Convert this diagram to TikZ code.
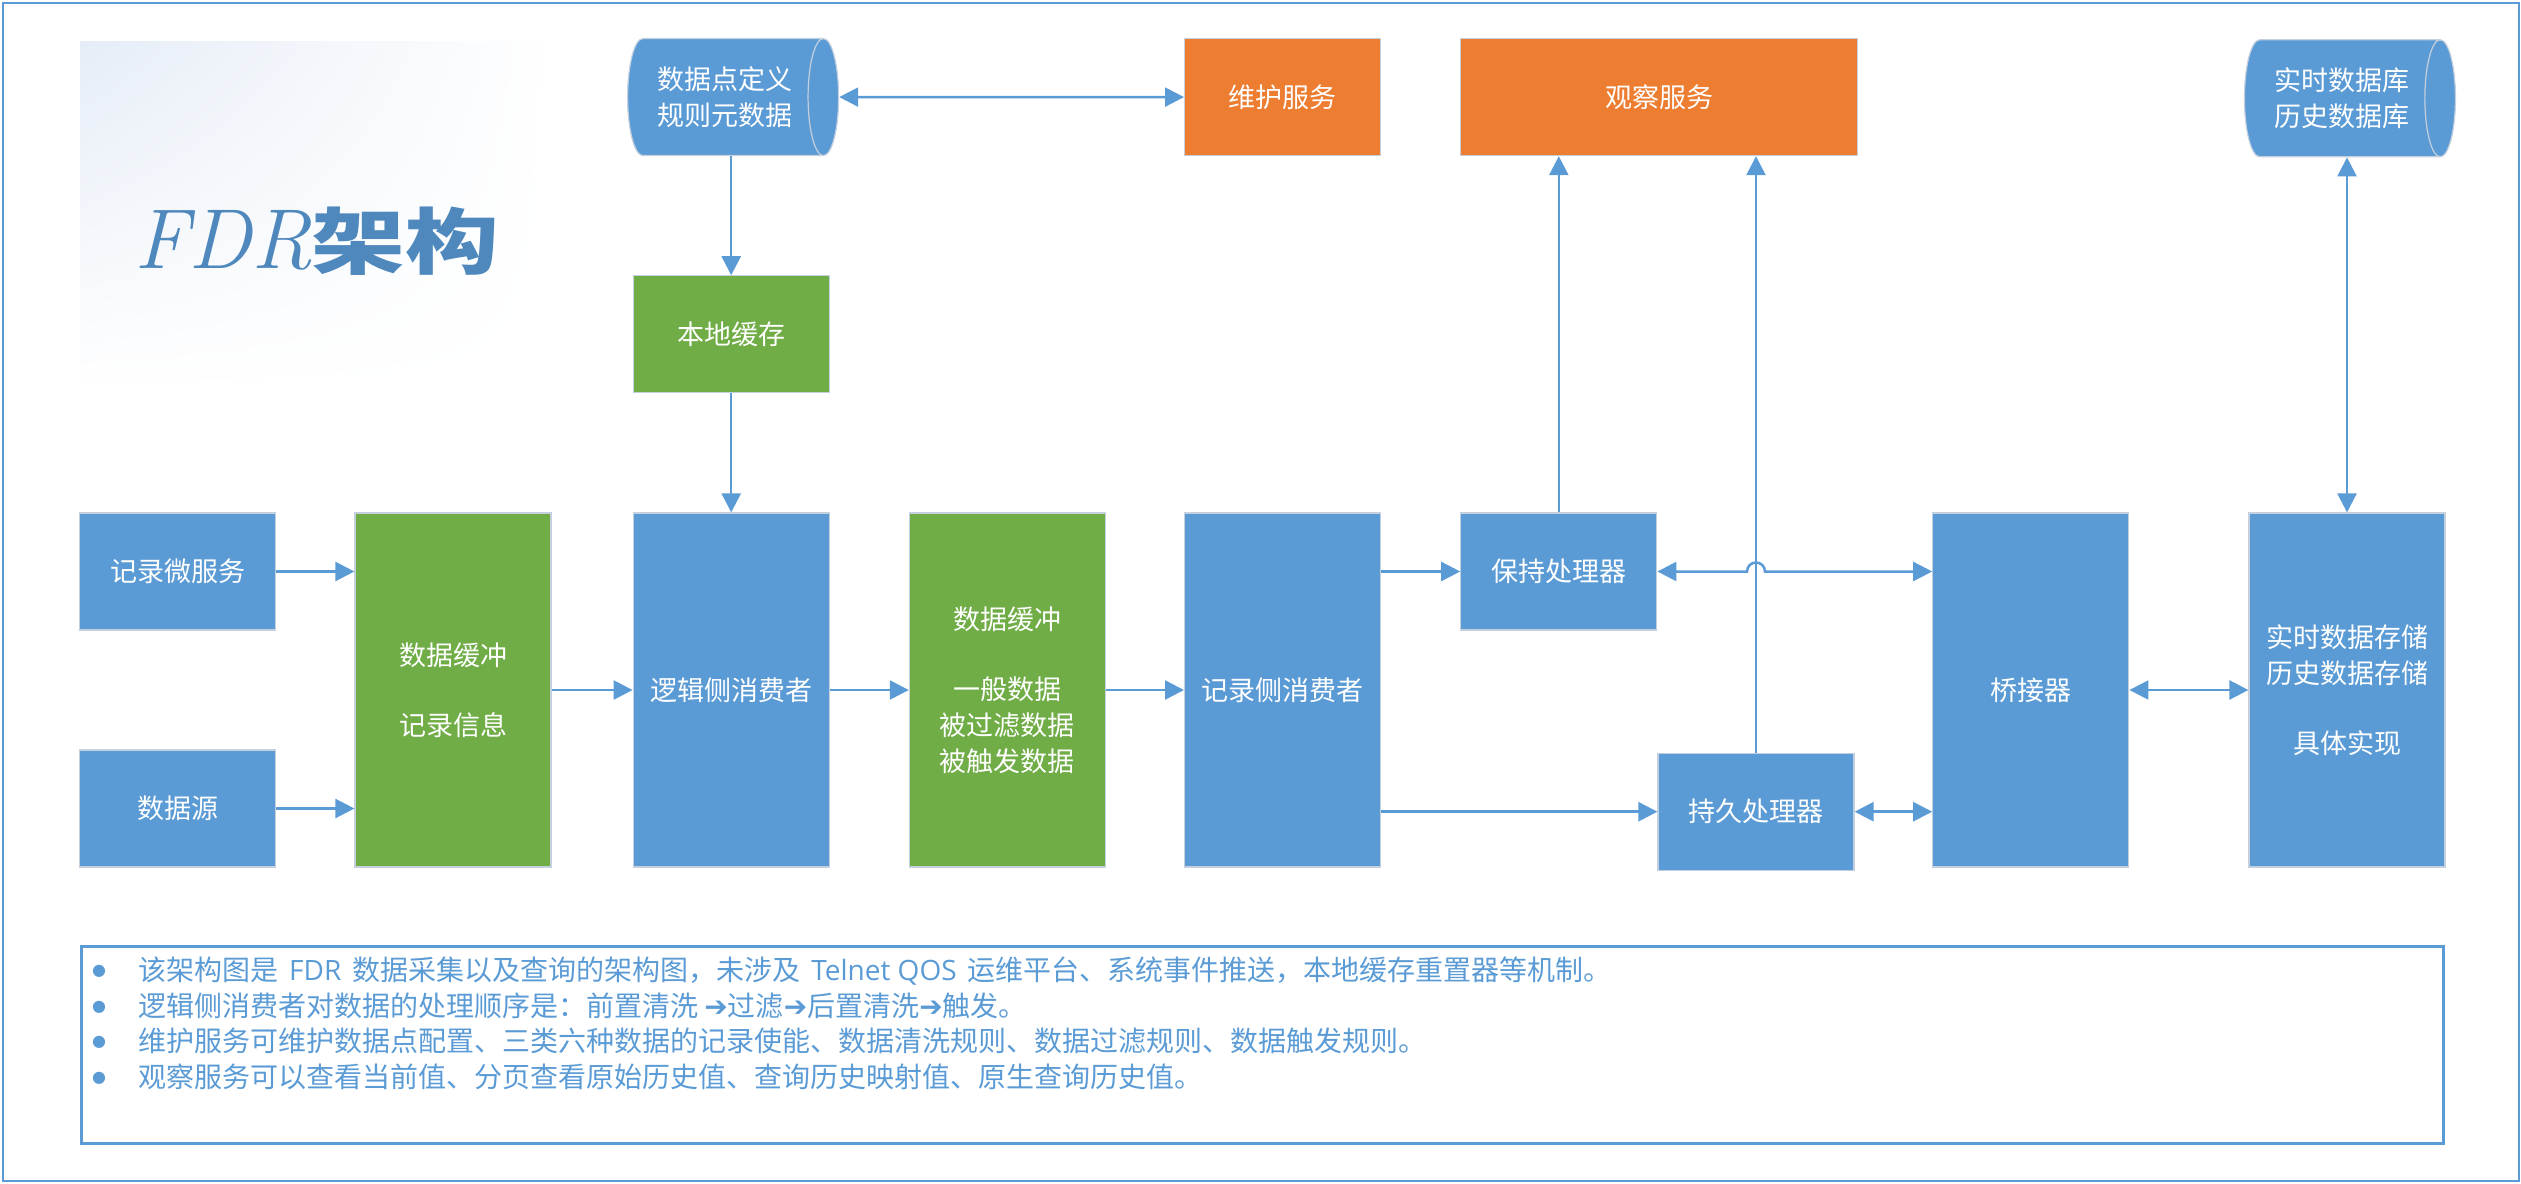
\documentclass[tikz,border=0pt]{standalone}
\usepackage{fontspec}
\usepackage{graphicx}
\usepackage{xcolor}
\usepackage{tikz}
\usetikzlibrary{arrows.meta, positioning, shapes.geometric, calc, shadings}
\newfontfamily\cjk{Noto Sans CJK SC}
\newfontfamily\symfont{DejaVu Sans}
\newfontfamily\latin{Open Sans}
\definecolor{boxblue}{RGB}{91,155,213}
\definecolor{leafgreen}{RGB}{112,173,71}
\definecolor{sunorange}{RGB}{237,125,49}
\definecolor{titleblue}{RGB}{79,136,189}
\definecolor{edgegrey}{RGB}{196,208,222}
\definecolor{panelblue}{RGB}{230,237,247}
\newcommand{\dotmark}{\makebox[46pt][l]{\raisebox{5pt}{\symfont\fontsize{16}{16}\selectfont ●}}}
\newcommand{\latinword}[1]{\hspace{11pt}{\latin #1}\hspace{11pt}}
\tikzset{
    block/.style={
      rectangle, %plain box
      draw=edgegrey, line width=1.2pt,
      fill=boxblue,
      text=white,
      font=\cjk\fontsize{27}{36}\selectfont,
      align=center,
      minimum width=196pt, minimum height=117pt,
      inner sep=0pt,
    },
    tall/.style={block, minimum height=354pt},
    drum/.style={
      block, cylinder, shape border rotate=0, %lying cylinder
      aspect=0.5,
      cylinder uses custom fill,
      cylinder body fill=boxblue, cylinder end fill=boxblue,
      minimum width=117pt, minimum height=211pt, %diameter, length
    },
    flow/.style={
      ->, %arrow type
      >={Triangle[length=19pt, width=19pt]}, %arrow head type (filled)
      line width=2.5pt,
      draw=boxblue,
    },
    biflow/.style={flow, <->},
    notetext/.style={
      text=boxblue, align=left, inner sep=0pt,
      font=\cjk\fontsize{28}{35.5}\selectfont,
    },
}

\begin{document}
\begin{tikzpicture}[x=1pt, y=-1pt]
  \useasboundingbox (0,0) rectangle (2521,1183);
  \node[draw=boxblue, line width=2.5pt, minimum width=2516pt, minimum height=1178pt, anchor=north west] (frame) at (1.5,1.5) {};
  \node[anchor=north west, minimum width=472pt, minimum height=352pt, upper left=panelblue, upper right=white, lower left=white, lower right=white] (panel) at (80,41) {};
  \node[anchor=base west, inner sep=0pt, text=titleblue] (title) at (134,268) {\fontsize{85}{85}\selectfont{\itshape FDR}\scalebox{1.3}[1]{\cjk\bfseries\fontsize{72}{72}\selectfont 架构}};

  \node[tall, fill=leafgreen] (inbuf) at (453,690) {数据缓冲\\[34pt]记录信息};
  \node[tall, right=81pt of inbuf] (logic) {逻辑侧消费者};
  \node[tall, fill=leafgreen, right=79pt of logic] (outbuf) {数据缓冲\\[34pt]一般数据\\被过滤数据\\被触发数据};
  \node[tall, right=78pt of outbuf] (recside) {记录侧消费者};
  \node[block, right=79pt of recside.north east, anchor=north west] (hold) {保持处理器};
  \node[block, below=122pt of hold.south east, anchor=north west] (persist) {持久处理器};
  \node[tall, right=551pt of recside] (bridge) {桥接器};
  \node[tall, right=119pt of bridge] (store) {实时数据存储\\历史数据存储\\[34pt]具体实现};
  \node[block, left=78pt of inbuf.north west, anchor=north east] (recsvc) {记录微服务};
  \node[block, left=78pt of inbuf.south west, anchor=south east] (datasrc) {数据源};
  \node[block, fill=leafgreen, above=119pt of logic] (cache) {本地缓存};
  \node[drum, above=119pt of cache, xshift=-6pt] (meta) {数据点定义\\规则元数据};
  \node[block, fill=sunorange] (maint) at (recside |- meta) {维护服务};
  \node[block, fill=sunorange, right=79pt of maint, minimum width=397pt] (observe) {观察服务};
  \node[drum, above=355pt of store, xshift=-5pt] (db) {实时数据库\\历史数据库};

  \draw[biflow] (meta.east) -- (maint.west);
  \draw[flow] (meta.south -| cache.north) -- (cache.north);
  \draw[flow] (cache) -- (logic);
  \draw[flow] (recsvc.east) -- (recsvc.east -| inbuf.west);
  \draw[flow] (datasrc.east) -- (datasrc.east -| inbuf.west);
  \draw[flow] (inbuf) -- (logic);
  \draw[flow] (logic) -- (outbuf);
  \draw[flow] (outbuf) -- (recside);
  \draw[flow] (recside.east |- hold.west) -- (hold.west);
  \draw[flow] (recside.east |- persist.west) -- (persist.west);
  \draw[flow] (hold.north) -- (hold.north |- observe.south);
  \draw[flow] (persist.north) -- (persist.north |- observe.south);
  \draw[biflow] (hold.east) -- ($(hold.east -| persist.north)+(-9,0)$) arc[start angle=180, end angle=0, radius=9pt] -- (hold.east -| bridge.west);
  \draw[biflow] (persist.east) -- (persist.east -| bridge.west);
  \draw[biflow] (bridge) -- (store);
  \draw[biflow] (store.north) -- (store.north |- db.south);

  \node[draw=boxblue, line width=2.5pt, minimum width=2362pt, minimum height=197pt, anchor=north west] (notes) at (80,945) {};
  \node[notetext, anchor=north west] (notelist) at ([xshift=12pt, yshift=-12pt]notes.north west) {%
\dotmark 该架构图是\latinword{FDR}数据采集以及查询的架构图，未涉及\latinword{Telnet QOS}运维平台、系统事件推送，本地缓存重置器等机制。\\
\dotmark 逻辑侧消费者对数据的处理顺序是：前置清洗 {\symfont ➔}过滤{\symfont ➔}后置清洗{\symfont ➔}触发。\\
\dotmark 维护服务可维护数据点配置、三类六种数据的记录使能、数据清洗规则、数据过滤规则、数据触发规则。\\
\dotmark 观察服务可以查看当前值、分页查看原始历史值、查询历史映射值、原生查询历史值。};
\end{tikzpicture}
\end{document}
